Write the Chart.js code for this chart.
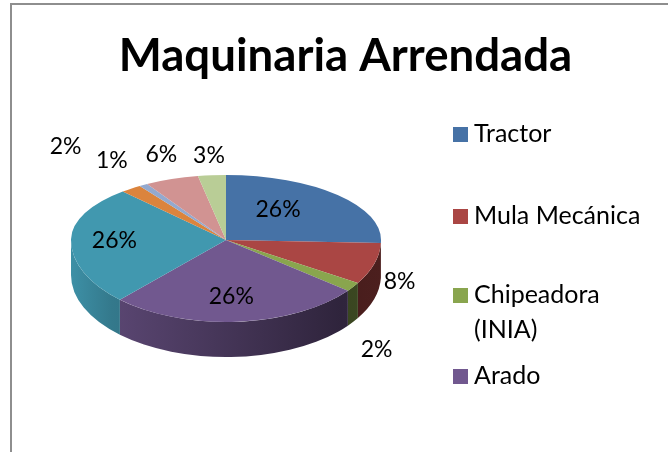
<!DOCTYPE html>
<html>
<head>
<meta charset="utf-8">
<title>Maquinaria Arrendada</title>
<script src="https://cdn.jsdelivr.net/npm/chart.js@4"></script>
<style>
  html,body{margin:0;padding:0;background:#fff;overflow:hidden}
  #wrap{position:relative;width:668px;height:452px}
  #frame{position:absolute;left:10px;top:3px;width:668px;height:460px;border:2px solid #8e8e8e;box-sizing:border-box}
  canvas{position:absolute;left:0;top:0}
</style>
</head>
<body>
<div id="wrap">
  <div id="frame"></div>
  <canvas id="chart" width="668" height="452"></canvas>
</div>
<script>
// datos
const categories = ['Tractor', 'Mula Mecánica', 'Chipeadora (INIA)', 'Arado', '', '', '', '', '']
const values = [25.6, 8.2, 1.8, 26.4, 26.4, 2.2, 0.9, 5.6, 2.9]
const colors = ['#4672a6', '#aa4644', '#89a54e', '#71588f', '#4198af', '#db843d', '#93a9cf', '#d19392', '#b9cd96']
const legendLines = [['Tractor'], ['Mula Mecánica'], ['Chipeadora', '(INIA)'], ['Arado']]

// posicion de las etiquetas respecto a cada porcion
const labelRadius = [0.57, 1.23, 1.65, 0.695, 0.72, 1.77, 1.42, 1.385, 1.31]
const labelShift = [-10, 7.5, 19, 1.5, -1, 2, 1, 3, 0.4]

const font = 'Lato, Carlito, sans-serif'
const total = values.reduce((a, b) => a + b, 0)
const legendWidth = 239
const legendBoxX = 453
const legendTextX = 474
const legendY = [134, 216, 295, 376]
const legendLineHeight = 35
const topSquash = 65 / 155   // la mitad de atras se ve mas plana
const bottomSquash = 82 / 155
const depth = 35

function shade(hex, f){
  const n = parseInt(hex.slice(1), 16)
  return `rgb(${(n >> 16) * f | 0},${((n >> 8) & 255) * f | 0},${(n & 255) * f | 0})`
}

// pared lateral del pastel
function drawWalls(ctx, arcs){
  arcs.forEach((arc, i) => {
    const from = Math.max(arc.startAngle, 0)
    const to = Math.min(arc.endAngle, Math.PI)
    if(to <= from) return
    const R = arc.outerRadius
    const g = ctx.createLinearGradient(arc.x - R, 0, arc.x + R, 0)
    g.addColorStop(0, shade(colors[i], 0.95))
    g.addColorStop(0.13, shade(colors[i], 0.8))
    g.addColorStop(0.87, shade(colors[i], 0.42))
    g.addColorStop(1, shade(colors[i], 0.45))
    ctx.fillStyle = g
    ctx.beginPath()
    const ry = R * bottomSquash
    ctx.ellipse(arc.x, arc.y, R, ry, 0, from, to)
    ctx.ellipse(arc.x, arc.y + depth, R, ry, 0, to, from, true)
    ctx.closePath()
    ctx.fill()
  })
}

function drawHalf(ctx, arcs, chart, upper){
  const cy = arcs[0].y
  const k = upper ? topSquash : bottomSquash
  ctx.save()
  ctx.beginPath()
  if(upper) ctx.rect(0, 0, chart.width, cy)
  else ctx.rect(0, cy, chart.width, chart.height - cy)
  ctx.clip()
  ctx.translate(0, cy)
  ctx.scale(1, k)
  ctx.translate(0, -cy)
  arcs.forEach(arc => arc.draw(ctx))
  ctx.restore()
}

const pie3d = {
  id: 'pie3d',
  afterLayout(chart){
    // deja sitio a la leyenda a la derecha
    chart.chartArea.right -= legendWidth
    chart.chartArea.width -= legendWidth
  },
  beforeDatasetDraw(chart, args){
    const ctx = chart.ctx
    const arcs = args.meta.data
    drawWalls(ctx, arcs)
    drawHalf(ctx, arcs, chart, true)
    drawHalf(ctx, arcs, chart, false)
    return false
  },
  afterDatasetsDraw(chart){
    const ctx = chart.ctx
    const arcs = chart.getDatasetMeta(0).data
    ctx.save()
    ctx.fillStyle = '#000'
    ctx.textBaseline = 'middle'

    // porcentajes
    ctx.font = '23px ' + font
    ctx.textAlign = 'center'
    arcs.forEach((arc, i) => {
      const mid = (arc.startAngle + arc.endAngle) / 2 + labelShift[i] * Math.PI / 180
      const dx = Math.cos(mid) * arc.outerRadius * labelRadius[i]
      const s = Math.sin(mid)
      const dy = s * arc.outerRadius * labelRadius[i] * (s < 0 ? topSquash : bottomSquash)
      ctx.fillText(Math.round(values[i] / total * 100) + '%', arc.x + dx, arc.y + dy)
    })

    // leyenda
    ctx.font = '25px ' + font
    ctx.textAlign = 'left'
    legendLines.forEach((lines, i) => {
      ctx.fillStyle = colors[i]
      ctx.fillRect(legendBoxX, legendY[i] - 7, 15, 15)
      ctx.fillStyle = '#000'
      lines.forEach((t, j) => ctx.fillText(t, legendTextX, legendY[i] + j * legendLineHeight))
    })
    ctx.restore()
  }
}

const myChart = new Chart(document.getElementById('chart').getContext('2d'), {
  type: 'pie',
  data: {
    labels: categories,
    datasets: [{
      data: values,
      backgroundColor: colors,
      borderWidth: 0
    }]
  },
  options: {
    responsive: false,
    animation: false,
    layout: { padding: { left: 23, right: 0, top: 0, bottom: 57 } },
    plugins: {
      legend: { display: false },
      tooltip: { enabled: false },
      title: {
        display: true,
        text: 'Maquinaria Arrendada',
        color: '#000',
        font: { family: font, size: 45.6, weight: 'bold', lineHeight: 1 },
        padding: { top: 33, bottom: 6.4 }
      }
    }
  },
  plugins: [pie3d]
})
</script>
</body>
</html>
